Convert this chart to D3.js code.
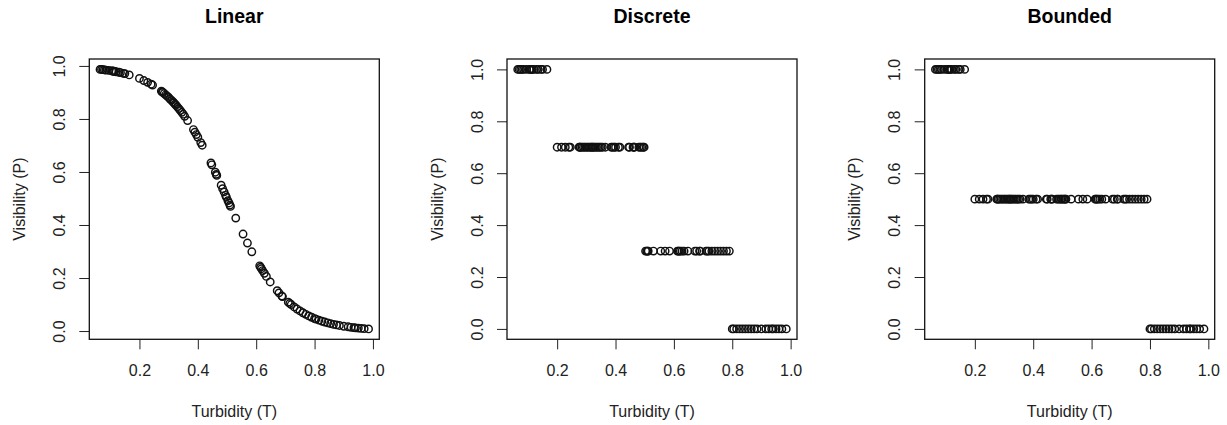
<!DOCTYPE html>
<html>
<head>
<meta charset="utf-8">
<script src="https://cdn.jsdelivr.net/npm/d3@7"></script>
<style>
  body { margin: 0; background: #fff; }
  svg text { font-family: "Liberation Sans", Arial, sans-serif; }
</style>
</head>
<body>
<svg id="chart" width="1227" height="425"></svg>
<script>
// Turbidity sample (same for every panel)
const turbidity = [
  0.065, 0.07, 0.075, 0.08, 0.085, 0.095, 0.105, 0.108, 0.112, 0.115, 0.12, 0.13, 0.135, 0.145, 0.15, 0.165,
  0.2, 0.215, 0.228, 0.24, 0.245, 0.275, 0.278, 0.28, 0.285, 0.29, 0.295, 0.30, 0.305, 0.31, 0.315, 0.318,
  0.322, 0.325, 0.33, 0.335, 0.34, 0.345, 0.35, 0.355, 0.365, 0.385, 0.39, 0.395, 0.40, 0.41, 0.415,
  0.445, 0.448, 0.46, 0.463, 0.465, 0.48, 0.485, 0.49, 0.495, 0.498,
  0.503, 0.507, 0.51, 0.512, 0.53, 0.555, 0.57, 0.585, 0.612, 0.615, 0.618, 0.622, 0.628, 0.635, 0.648,
  0.672, 0.678, 0.688, 0.69, 0.71, 0.715, 0.72, 0.73, 0.74, 0.75, 0.76, 0.77, 0.78, 0.79,
  0.80, 0.805, 0.815, 0.825, 0.835, 0.845, 0.855, 0.865, 0.875, 0.885, 0.90, 0.915, 0.925, 0.935, 0.94, 0.95,
  0.96, 0.97, 0.985
];

// Visibility
const linearP = [
  0.987, 0.987, 0.986, 0.985, 0.984, 0.983, 0.981, 0.981, 0.980, 0.979, 0.978, 0.976, 0.975, 0.972, 0.971, 0.966,
  0.953, 0.945, 0.938, 0.931, 0.928, 0.905, 0.902, 0.900, 0.896, 0.891, 0.886, 0.881, 0.875, 0.870, 0.864, 0.861,
  0.856, 0.852, 0.846, 0.839, 0.832, 0.825, 0.818, 0.810, 0.794, 0.760, 0.750, 0.741, 0.731, 0.711, 0.701,
  0.634, 0.627, 0.599, 0.591, 0.587, 0.550, 0.537, 0.525, 0.512, 0.505,
  0.492, 0.483, 0.475, 0.470, 0.426, 0.366, 0.332, 0.299, 0.246, 0.241, 0.235, 0.228, 0.218, 0.206, 0.185,
  0.152, 0.144, 0.132, 0.130, 0.109, 0.104, 0.100, 0.091, 0.083, 0.076, 0.069, 0.063, 0.057, 0.052,
  0.047, 0.045, 0.041, 0.037, 0.034, 0.031, 0.028, 0.025, 0.023, 0.021, 0.018, 0.016, 0.014, 0.013, 0.012, 0.011,
  0.010, 0.009, 0.008
];

const discreteP = [
  1, 1, 1, 1, 1, 1, 1, 1, 1, 1, 1, 1, 1, 1, 1, 1,
  0.7, 0.7, 0.7, 0.7, 0.7, 0.7, 0.7, 0.7, 0.7, 0.7, 0.7, 0.7, 0.7, 0.7, 0.7, 0.7,
  0.7, 0.7, 0.7, 0.7, 0.7, 0.7, 0.7, 0.7, 0.7, 0.7, 0.7, 0.7, 0.7, 0.7, 0.7,
  0.7, 0.7, 0.7, 0.7, 0.7, 0.7, 0.7, 0.7, 0.7, 0.7,
  0.3, 0.3, 0.3, 0.3, 0.3, 0.3, 0.3, 0.3, 0.3, 0.3, 0.3, 0.3, 0.3, 0.3, 0.3,
  0.3, 0.3, 0.3, 0.3, 0.3, 0.3, 0.3, 0.3, 0.3, 0.3, 0.3, 0.3, 0.3, 0.3,
  0, 0, 0, 0, 0, 0, 0, 0, 0, 0, 0, 0, 0, 0, 0, 0,
  0, 0, 0
];

const boundedP = [
  1, 1, 1, 1, 1, 1, 1, 1, 1, 1, 1, 1, 1, 1, 1, 1,
  0.5, 0.5, 0.5, 0.5, 0.5, 0.5, 0.5, 0.5, 0.5, 0.5, 0.5, 0.5, 0.5, 0.5, 0.5, 0.5,
  0.5, 0.5, 0.5, 0.5, 0.5, 0.5, 0.5, 0.5, 0.5, 0.5, 0.5, 0.5, 0.5, 0.5, 0.5,
  0.5, 0.5, 0.5, 0.5, 0.5, 0.5, 0.5, 0.5, 0.5, 0.5,
  0.5, 0.5, 0.5, 0.5, 0.5, 0.5, 0.5, 0.5, 0.5, 0.5, 0.5, 0.5, 0.5, 0.5, 0.5,
  0.5, 0.5, 0.5, 0.5, 0.5, 0.5, 0.5, 0.5, 0.5, 0.5, 0.5, 0.5, 0.5, 0.5,
  0, 0, 0, 0, 0, 0, 0, 0, 0, 0, 0, 0, 0, 0, 0, 0,
  0, 0, 0
];

const titles = ["Linear", "Discrete", "Bounded"];
const series = [linearP, discreteP, boundedP];
const xTicks = [0.2, 0.4, 0.6, 0.8, 1.0];
const yTicks = [0.0, 0.2, 0.4, 0.6, 0.8, 1.0];
const xLabel = "Turbidity (T)";
const yLabel = "Visibility (P)";

const svg = d3.select("#chart");
const boxTop = 59, boxW = 290, boxH = 280.3;
const fmt = d3.format(".1f");

// R style padding: 4% of the data range on each side
function padded(values) {
  const [lo, hi] = d3.extent(values);
  const p = (hi - lo) * 0.04;
  return [lo - p, hi + p];
}

series.forEach(function(vals, i) {
  const left = 89.3 + i * 417.7;
  const g = svg.append("g").attr("transform", `translate(${left},${boxTop})`);

  const x = d3.scaleLinear().domain(padded(turbidity)).range([0, boxW]);
  const y = d3.scaleLinear().domain(padded(vals)).range([boxH, 0]);

  // x axis
  const gx = g.append("g")
    .attr("transform", `translate(0,${boxH})`)
    .call(d3.axisBottom(x).tickValues(xTicks).tickFormat(fmt).tickSize(10).tickSizeOuter(0));
  gx.select(".domain").remove();
  gx.selectAll(".tick line").attr("stroke", "#222").attr("stroke-width", 1);
  gx.selectAll(".tick text")
    .attr("y", 36.7).attr("dy", 0)
    .attr("fill", "#222").style("font-size", "16px");

  // y axis, labels turned like R's las=0
  const gy = g.append("g")
    .call(d3.axisLeft(y).tickValues(yTicks).tickFormat(fmt).tickSize(10).tickSizeOuter(0));
  gy.select(".domain").remove();
  gy.selectAll(".tick line").attr("stroke", "#222").attr("stroke-width", 1);
  gy.selectAll(".tick text")
    .attr("transform", "rotate(-90)")
    .attr("x", 0).attr("y", -24.3).attr("dy", 0)
    .attr("text-anchor", "middle")
    .attr("fill", "#222").style("font-size", "16px");

  // frame
  g.append("rect")
    .attr("width", boxW).attr("height", boxH)
    .attr("fill", "none").attr("stroke", "#111").attr("stroke-width", 1.3);

  // points
  g.append("g")
    .selectAll("circle")
    .data(turbidity.map((t, k) => [t, vals[k]]))
    .enter()
    .append("circle")
      .attr("cx", d => x(d[0]))
      .attr("cy", d => y(d[1]))
      .attr("r", 3.7)
      .attr("fill", "none")
      .attr("stroke", "#111")
      .attr("stroke-width", 1.45);

  // title and axis labels
  g.append("text")
    .attr("x", boxW / 2).attr("y", 23.3 - boxTop)
    .attr("text-anchor", "middle")
    .style("font-size", "19.5px").style("font-weight", "bold")
    .attr("fill", "#000")
    .text(titles[i]);

  g.append("text")
    .attr("x", boxW / 2).attr("y", 417 - boxTop)
    .attr("text-anchor", "middle")
    .style("font-size", "16px")
    .attr("fill", "#222")
    .text(xLabel);

  g.append("text")
    .attr("transform", `translate(-64.3,${boxH / 2}) rotate(-90)`)
    .attr("text-anchor", "middle")
    .style("font-size", "16px")
    .attr("fill", "#222")
    .text(yLabel);
});
</script>
</body>
</html>
